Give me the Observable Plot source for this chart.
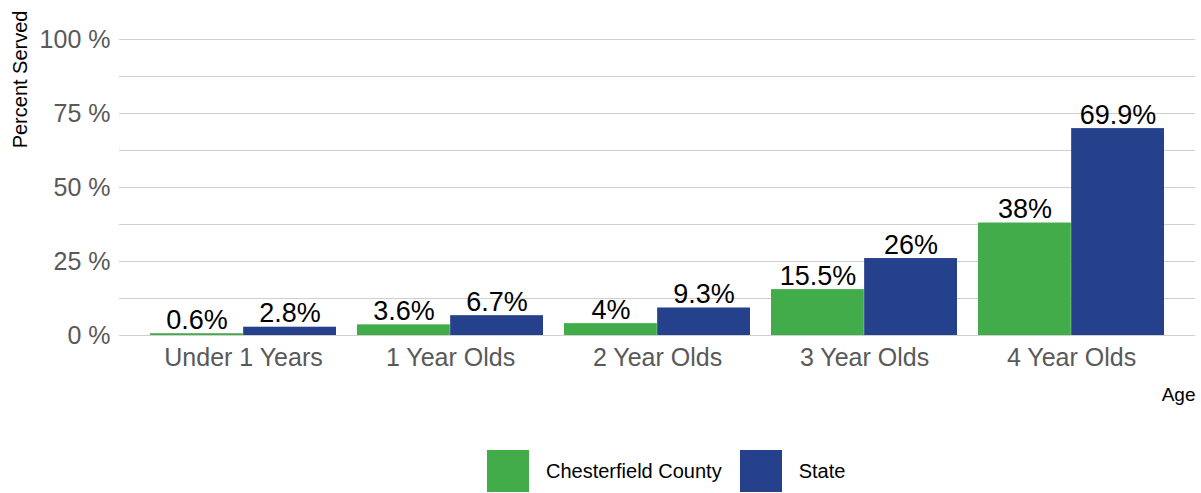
<!DOCTYPE html>
<html>
<head>
<meta charset="utf-8">
<script src="https://cdn.jsdelivr.net/npm/d3@7"></script>
<script src="https://cdn.jsdelivr.net/npm/@observablehq/plot@0.6"></script>
<style>
  html, body { margin: 0; padding: 0; background: #fff; }
  body { font-family: "Liberation Sans", Arial, sans-serif; width: 1201px; overflow: hidden; }
  #legend { display: flex; align-items: center; margin-top: 20px; margin-left: 487px; height: 42px; }
  .sw { width: 42px; height: 42px; flex: none; }
  .lab { font-size: 20px; color: #000; margin-left: 17px; margin-right: 18px; }
</style>
</head>
<body>
<div id="chart"></div>
<div id="legend"></div>
<script>
const categories = ["Under 1 Years", "1 Year Olds", "2 Year Olds", "3 Year Olds", "4 Year Olds"];
const countyValues = [0.6, 3.6, 4, 15.5, 38];
const stateValues = [2.8, 6.7, 9.3, 26, 69.9];
const seriesNames = ["Chesterfield County", "State"];
const seriesColors = ["#43AC4A", "#26418C"];
const yTickValues = [0, 25, 50, 75, 100];
const yGridValues = [0, 12.5, 25, 37.5, 50, 62.5, 75, 87.5, 100];

const county = categories.map((c, i) => ({category: c, value: countyValues[i], series: seriesNames[0]}));
const state = categories.map((c, i) => ({category: c, value: stateValues[i], series: seriesNames[1]}));

const W = 1201, H = 430, ML = 119, MR = 6, MT = 39, MB = 95;
const INSET = 20.5;
const step = (W - ML - MR - 2 * INSET) / categories.length;
const bandwidth = step * 0.9;
const half = bandwidth / 2;

const chart = Plot.plot({
  width: W,
  height: H,
  marginLeft: ML,
  marginRight: MR,
  marginTop: MT,
  marginBottom: MB,
  style: {fontFamily: '"Liberation Sans", Arial, sans-serif', background: "#fff", overflow: "visible"},
  x: {domain: categories, paddingInner: 0.1, paddingOuter: 0.05, insetLeft: INSET, insetRight: INSET, label: null},
  y: {domain: [0, 100], label: null},
  marks: [
    Plot.ruleY(yGridValues, {stroke: "#d0d0d0", strokeWidth: 1}),
    Plot.axisY({ticks: yTickValues, tickSize: 0, tickPadding: 9, tickFormat: d => d + " %", fontSize: 25, color: "#595959", label: null}),
    Plot.axisX({tickSize: 0, tickPadding: 13, fontSize: 25, color: "#595959", label: null}),
    Plot.barY(county, {x: "category", y: "value", fill: seriesColors[0], insetRight: half}),
    Plot.barY(state, {x: "category", y: "value", fill: seriesColors[1], insetLeft: half}),
    Plot.text(county, {x: "category", y: "value", text: d => d.value + "%", dx: -half / 2, dy: -5, lineAnchor: "bottom", fontSize: 27, fill: "#000"}),
    Plot.text(state, {x: "category", y: "value", text: d => d.value + "%", dx: half / 2, dy: -5, lineAnchor: "bottom", fontSize: 27, fill: "#000"}),
    Plot.text(["Percent Served"], {frameAnchor: "top-left", rotate: -90, textAnchor: "end", lineAnchor: "middle", dx: -99, dy: -29, fontSize: 20, fill: "#000"}),
    Plot.text(["Age"], {frameAnchor: "bottom-right", textAnchor: "end", lineAnchor: "bottom", dy: 65, fontSize: 19, fill: "#000"})
  ]
});
document.getElementById("chart").append(chart);

const legend = document.getElementById("legend");
seriesNames.forEach((name, i) => {
  const sw = document.createElement("div");
  sw.className = "sw";
  sw.style.background = seriesColors[i];
  const lab = document.createElement("span");
  lab.className = "lab";
  lab.textContent = name;
  legend.append(sw, lab);
});
</script>
</body>
</html>
